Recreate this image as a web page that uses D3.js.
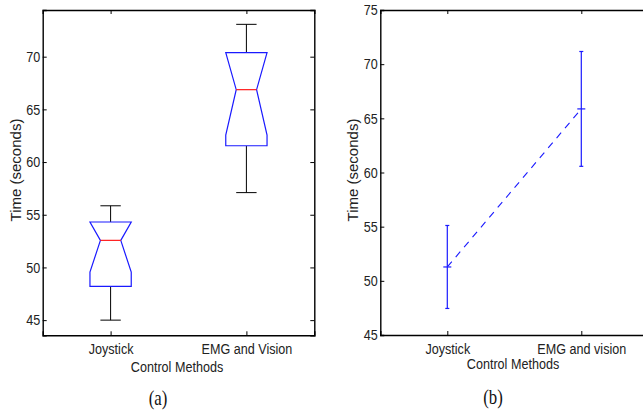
<!DOCTYPE html>
<html>
<head>
<meta charset="utf-8">
<script src="https://cdn.jsdelivr.net/npm/d3@7"></script>
<style>
  html, body { margin: 0; padding: 0; background: #fff; }
  svg { display: block; }
  .tick text { font-family: "Liberation Sans", Arial, sans-serif; font-size: 15px; fill: #222; }
  .lbl { font-family: "Liberation Sans", Arial, sans-serif; font-size: 15px; fill: #222; }
  .cap { font-family: "Liberation Serif", "Times New Roman", serif; font-size: 20px; fill: #111; }
</style>
</head>
<body>
<svg id="chart" width="643" height="410"></svg>
<script>
// Task completion time per control method
const categories = ["Joystick", "EMG and Vision"];
const categoriesB = ["Joystick", "EMG and vision"];

// (a) notched box plot statistics
const whiskerLow  = [45.0, 57.1];
const q1          = [48.2, 61.55];
const median      = [52.57, 66.87];
const q3          = [54.31, 70.38];
const whiskerHigh = [55.85, 73.07];
const notchLow    = [49.55, 62.56];
const notchHigh   = [55.59, 71.18];

// (b) mean with error bars
const meanTime  = [51.28, 65.87];
const errorTime = [3.83, 5.3];

// tick labels
const ticksA = [45, 50, 55, 60, 65, 70];
const ticksB = [45, 50, 55, 60, 65, 70, 75];

// horizontal text is set slightly condensed
const squeeze = "scale(0.84,1)";

const svg = d3.select("#chart");

function frame(g, x, y, yTicks, labels) {
  const [x0, x1] = x.range();
  const [y0, y1] = y.range();
  const pos = categories.map((_, i) => i + 1);
  g.append("g").attr("transform", `translate(${x0},0)`)
    .call(d3.axisLeft(y).tickValues(yTicks).tickSize(-4).tickPadding(3).tickFormat(d3.format("d")));
  g.append("g").attr("transform", `translate(${x1},0)`)
    .call(d3.axisRight(y).tickValues(yTicks).tickSize(-4).tickFormat(""));
  g.append("g").attr("transform", `translate(0,${y0})`)
    .call(d3.axisBottom(x).tickValues(pos).tickSize(-4).tickPadding(8).tickFormat((d, i) => labels[i]));
  g.append("g").attr("transform", `translate(0,${y1})`)
    .call(d3.axisTop(x).tickValues(pos).tickSize(-4).tickFormat(""));
  g.selectAll(".domain").attr("stroke", "#000").attr("stroke-width", 1.4);
  g.selectAll(".tick line").attr("stroke", "#000");
  g.selectAll(".tick text").attr("fill", "#222").attr("transform", squeeze);
}

function hLabel(g, cls, x, y, text) {
  g.append("text").attr("class", cls)
    .attr("transform", `translate(${x},${y}) ${squeeze}`)
    .attr("text-anchor", "middle").attr("dy", "0.35em").text(text);
}

// ---------- panel (a): notched box plot ----------
const xA = d3.scaleLinear().domain([0.5, 2.5]).range([42.7, 314.3]);
const yA = d3.scaleLinear().domain([43.56, 74.43]).range([335.3, 10]);
const gA = svg.append("g");
frame(gA, xA, yA, ticksA, categories);

const halfBox = 0.152, halfNotch = 0.075;
categories.forEach((c, i) => {
  const xc = i + 1;
  const nLo = Math.max(notchLow[i], q1[i]);
  const nHi = Math.min(notchHigh[i], q3[i]);
  // whiskers
  gA.append("line").attr("x1", xA(xc)).attr("x2", xA(xc))
    .attr("y1", yA(whiskerLow[i])).attr("y2", yA(q1[i])).attr("stroke", "#000");
  gA.append("line").attr("x1", xA(xc)).attr("x2", xA(xc))
    .attr("y1", yA(q3[i])).attr("y2", yA(whiskerHigh[i])).attr("stroke", "#000");
  [whiskerLow[i], whiskerHigh[i]].forEach(v => {
    gA.append("line").attr("x1", xA(xc - halfNotch)).attr("x2", xA(xc + halfNotch))
      .attr("y1", yA(v)).attr("y2", yA(v)).attr("stroke", "#000");
  });
  // notched box outline
  const pts = [
    [xc - halfBox, q1[i]], [xc - halfBox, nLo], [xc - halfNotch, median[i]],
    [xc - halfBox, nHi], [xc - halfBox, q3[i]], [xc + halfBox, q3[i]],
    [xc + halfBox, nHi], [xc + halfNotch, median[i]], [xc + halfBox, nLo],
    [xc + halfBox, q1[i]]
  ];
  gA.append("path")
    .attr("d", d3.line().x(d => xA(d[0])).y(d => yA(d[1]))(pts) + "Z")
    .attr("fill", "#fff").attr("stroke", "#1a1aff").attr("stroke-width", 1.2);
  // median
  gA.append("line").attr("x1", xA(xc - halfNotch)).attr("x2", xA(xc + halfNotch))
    .attr("y1", yA(median[i])).attr("y2", yA(median[i])).attr("stroke", "#ff1a1a").attr("stroke-width", 1.2);
});

gA.append("text").attr("class", "lbl").attr("transform", "translate(16,170) rotate(-90)")
  .attr("text-anchor", "middle").attr("dy", "0.35em").text("Time (seconds)");
hLabel(gA, "lbl", 177, 367, "Control Methods");
hLabel(gA, "cap", 158, 398, "(a)");

// ---------- panel (b): mean ± error ----------
const xB = d3.scaleLinear().domain([0.5, 2.5]).range([380.3, 648.3]);
const yB = d3.scaleLinear().domain([45, 75]).range([335, 10]);
const gB = svg.append("g");
frame(gB, xB, yB, ticksB, categoriesB);

const blue = "#1a1aff";
gB.append("path")
  .attr("d", d3.line().x((d, i) => xB(i + 1)).y(d => yB(d))(meanTime))
  .attr("fill", "none").attr("stroke", blue).attr("stroke-width", 1.1).attr("stroke-dasharray", "7,6");
meanTime.forEach((m, i) => {
  const xc = xB(i + 1);
  const lo = m - errorTime[i], hi = m + errorTime[i];
  gB.append("line").attr("x1", xc).attr("x2", xc).attr("y1", yB(lo)).attr("y2", yB(hi))
    .attr("stroke", blue).attr("stroke-width", 1.2);
  [lo, hi].forEach(v => {
    gB.append("line").attr("x1", xc - 2).attr("x2", xc + 2).attr("y1", yB(v)).attr("y2", yB(v))
      .attr("stroke", blue).attr("stroke-width", 1.2);
  });
  // plus marker at the mean
  gB.append("line").attr("x1", xc - 4).attr("x2", xc + 4).attr("y1", yB(m)).attr("y2", yB(m))
    .attr("stroke", blue).attr("stroke-width", 1.2);
});

gB.append("text").attr("class", "lbl").attr("transform", "translate(353,170) rotate(-90)")
  .attr("text-anchor", "middle").attr("dy", "0.35em").text("Time (seconds)");
hLabel(gB, "lbl", 513, 364, "Control Methods");
hLabel(gB, "cap", 493, 397, "(b)");
</script>
</body>
</html>
